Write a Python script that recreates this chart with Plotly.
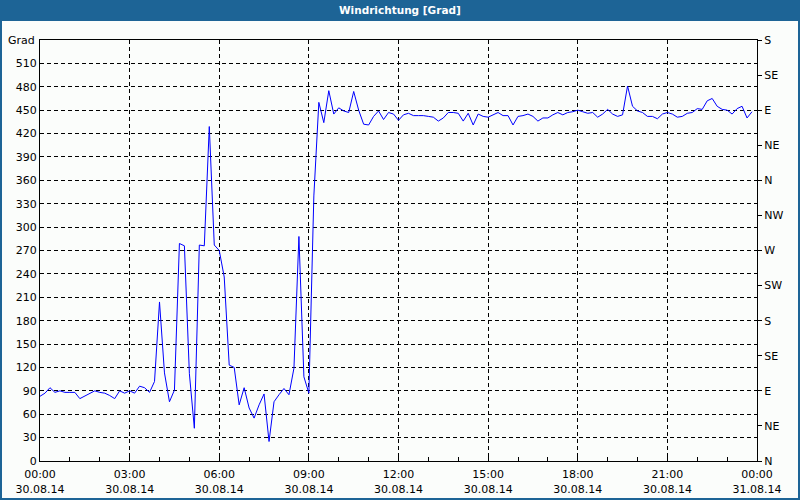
import plotly.graph_objects as go
import pandas as pd

# Wind direction readings, one every 10 minutes starting 30.08.14 00:00
start_time = "2014-08-30 00:00"
step_minutes = 10
wind_dir = [
    83, 87, 94, 88, 90, 88, 88, 88, 80, 83,
    87, 90, 88, 87, 84, 80, 90, 87, 90, 87,
    96, 94, 88, 102, 204, 113, 76, 91, 279, 276,
    112, 42, 277, 276, 429, 277, 270, 236, 123, 120,
    72, 94, 68, 55, 72, 86, 25, 76, 85, 93,
    85, 119, 288, 108, 87, 340, 460, 434, 475, 445,
    453, 449, 447, 474, 450, 432, 431, 442, 449, 438,
    447, 445, 437, 444, 446, 443, 443, 443, 442, 441,
    436, 440, 447, 447, 446, 436, 446, 431, 445, 442,
    441, 444, 447, 443, 443, 431, 442, 443, 445, 442,
    436, 440, 440, 444, 447, 444, 447, 448, 450, 448,
    446, 447, 441, 445, 451, 445, 442, 444, 481, 455,
    449, 447, 442, 442, 439, 445, 447, 445, 441, 442,
    446, 447, 452, 451, 462, 465, 455, 451, 450, 445,
    452, 455, 440, 448,
]
times = pd.date_range(start_time, periods=len(wind_dir), freq=f"{step_minutes}min")

left_ticks = list(range(0, 511, 30))
compass_vals = list(range(0, 541, 45))
compass_text = ["N", "NE", "E", "SE", "S", "SW", "W", "NW", "N", "NE", "E", "SE", "S"]
x_ticks = pd.date_range("2014-08-30 00:00", "2014-08-31 00:00", freq="3h")

W, H = 800, 500
ml, mr, mt, mb = 40, 43, 40, 39
pw, ph = W - ml - mr, H - mt - mb
bar_blue = "#1d6496"
font = dict(family="DejaVu Sans", size=11, color="black")

fig = go.Figure()
fig.add_trace(go.Scatter(x=times, y=wind_dir, mode="lines",
                         line=dict(color="#0000ff", width=1), hoverinfo="x+y"))
# invisible copy so the compass axis is drawn
fig.add_trace(go.Scatter(x=times, y=wind_dir, mode="lines", yaxis="y2",
                         line=dict(width=0), opacity=0, hoverinfo="skip"))

grid = dict(showgrid=True, gridcolor="black", gridwidth=1, griddash="4px,3px")

fig.update_layout(
    width=W, height=H,
    margin=dict(l=ml, r=mr, t=mt, b=mb, pad=0, autoexpand=False),
    paper_bgcolor="#fbfdfb", plot_bgcolor="#fbfdfb",
    showlegend=False, font=font,
    xaxis=dict(type="date", range=[x_ticks[0], x_ticks[-1]], automargin=False,
               tickvals=x_ticks, tickformat="%H:%M<br>%d.%m.%y",
               ticks="inside", ticklen=4, tickcolor="black", ticklabelstandoff=3,
               minor=dict(dtick=3600000, ticks="inside", ticklen=4, tickcolor="black", showgrid=False),
               showline=True, linecolor="black", linewidth=1, mirror=True,
               zeroline=False, **grid),
    yaxis=dict(range=[0, 540], tickvals=left_ticks, ticks="", ticklen=0, automargin=False,
               showline=True, linecolor="black", linewidth=1, mirror=True,
               zeroline=False, **grid),
    yaxis2=dict(range=[0, 540], overlaying="y", side="right", automargin=False,
                tickvals=compass_vals, ticktext=compass_text,
                ticks="outside", ticklen=4, tickcolor="black",
                showline=True, linecolor="black", showgrid=False, zeroline=False),
)

# title bar and window border
fig.add_shape(type="rect", xref="paper", yref="paper", layer="below",
              x0=-ml / pw, x1=(pw + mr) / pw, y0=1 + (mt - 20) / ph, y1=1 + mt / ph,
              fillcolor=bar_blue, line=dict(width=0))
fig.add_shape(type="rect", xref="paper", yref="paper",
              x0=-(ml - 1) / pw, x1=(pw + mr - 1) / pw, y0=-(mb - 1) / ph, y1=1 + (mt - 20) / ph,
              fillcolor="rgba(0,0,0,0)", line=dict(color=bar_blue, width=2))
fig.add_annotation(text="<b>Windrichtung [Grad]</b>", xref="paper", yref="paper",
                   x=(W / 2 - ml) / pw, y=1 + (mt - 10) / ph, showarrow=False,
                   font=dict(family="DejaVu Sans", size=10.5, color="white"),
                   xanchor="center", yanchor="middle")
fig.add_annotation(text="Grad", xref="paper", yref="y", x=-3 / pw, y=540,
                   showarrow=False, xanchor="right", yanchor="middle", font=font)

# the page has a default 8px body margin; drop it so the figure fills the window
fig.write_html("out.html", config={"displayModeBar": False},
               post_script="document.body.style.margin='0';")
